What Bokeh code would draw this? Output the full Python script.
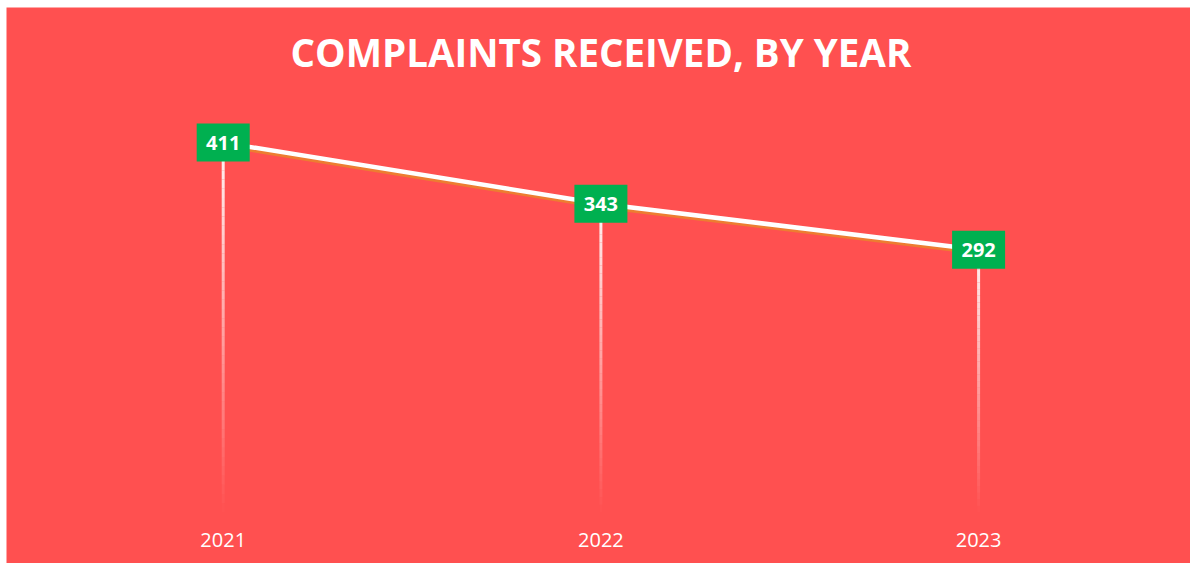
import numpy as np
from bokeh.plotting import figure
from bokeh.models import ColumnDataSource
from bokeh.core.properties import value
from bokeh.embed import file_html
from bokeh.resources import INLINE

# ---- data ----
years = ["2021", "2022", "2023"]
complaints = [411, 343, 292]
title_text = "COMPLAINTS RECEIVED, BY YEAR"

BG = "#FF5050"
GREEN = "#00B050"
ORANGE = "#ED7D31"
FONT = "Open Sans"

W, H = 1190, 563
LEFT, TOP = 6, 7
frame_w, frame_h = W - LEFT, H - TOP
px_per_unit = 0.9
zero_from_bottom = 51          # px between value 0 and frame bottom
y_start = -zero_from_bottom / px_per_unit
y_end = (frame_h - zero_from_bottom) / px_per_unit

x_px_step = 377.7
first_px = 216.7
x_start = -first_px / x_px_step
x_end = (frame_w - first_px) / x_px_step

p = figure(width=W, height=H, output_backend="svg", toolbar_location=None,
           x_range=(x_start, x_end), y_range=(y_start, y_end),
           x_axis_location=None, y_axis_location=None,
           min_border_left=LEFT, min_border_right=0,
           min_border_top=TOP, min_border_bottom=0)
p.background_fill_color = BG
p.border_fill_color = "white"
p.outline_line_color = None
p.grid.visible = False

xs = list(range(len(years)))

# fading drop lines
N = 40
sx0, sy0, sx1, sy1, alphas = [], [], [], [], []
for x, v in zip(xs, complaints):
    edges = np.linspace(v, 0, N + 1)
    for k in range(N):
        sx0.append(x); sx1.append(x)
        sy0.append(edges[k]); sy1.append(edges[k + 1])
        alphas.append(max(0.0, 0.95 * (1 - (k + 0.5) / N)))
p.segment(x0=sx0, y0=sy0, x1=sx1, y1=sy1, line_color="white",
          line_alpha=alphas, line_width=3)

# shadow + line
shadow_units = 3.2 / px_per_unit
p.line([x + 0.006 for x in xs], [v - shadow_units for v in complaints],
       line_color=ORANGE, line_width=4)
p.line(xs, complaints, line_color="white", line_width=4.5)

# data labels
src = ColumnDataSource(dict(x=xs, y=complaints, t=[str(v) for v in complaints]))
p.rect(x="x", y="y", width=53, height=38, width_units="screen",
       height_units="screen", fill_color=GREEN, line_color=None, source=src)
p.text(x="x", y="y", text="t", text_color="white", text_font=value(FONT),
       text_font_style="bold", text_font_size="20px", text_align="center",
       text_baseline="middle", source=src)

# category (year) labels below the baseline
p.text(x=xs, y=[0] * len(xs), text=years, text_color="white",
       text_font=value(FONT), text_font_size="20px", text_align="center",
       text_baseline="middle", y_offset=27)

# title
p.text(x=[1], y=[(512 - 51.5) / px_per_unit], text=[title_text],
       text_color="white", text_font=value(FONT), text_font_style="bold",
       text_font_size="38.5px", text_align="center", text_baseline="middle")

open("out.html", "w").write(file_html(p, INLINE))
